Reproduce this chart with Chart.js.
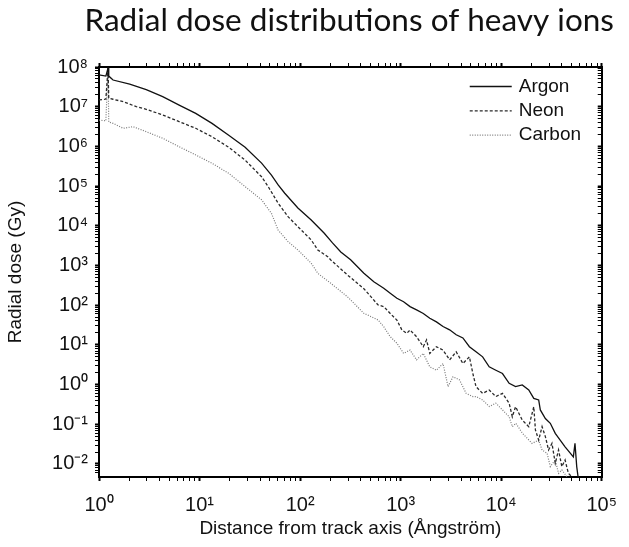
<!DOCTYPE html>
<html>
<head>
<meta charset="utf-8">
<script src="https://cdn.jsdelivr.net/npm/chart.js@4/dist/chart.umd.min.js"></script>
<style>
  body { margin: 0; background: #fff; }
  #wrap { width: 629px; height: 547px; position: relative; }
</style>
</head>
<body>
<div id="wrap"><canvas id="dose-chart"></canvas></div>
<script>
// Radial dose vs distance from the ion track
var argonR = [1, 1.17, 1.23, 1.25, 1.38, 2.02, 2.95, 4.3, 6.27, 9.16, 13.3, 19.5, 28.4, 41.4, 51.9,
  60.5, 70.4, 95.1, 129, 174, 210, 254, 318, 431, 541, 679, 788, 918, 1070, 1240, 1440, 1680, 1950,
  2270, 2640, 3070, 3570, 4160, 4830, 5620, 6540, 7600, 8850, 10300, 12000, 13900, 16200, 18800,
  21100, 23600, 24500, 27500, 30800, 34500, 38600, 43200, 48400, 52200, 54200, 56400, 58400];
var argonDose = [6.3e7, 5.9e7, 9.4e7, 5.9e7, 4.7e7, 3.7e7, 2.7e7, 1.8e7, 1.1e7, 6.8e6, 3.8e6, 1.9e6,
  9.5e5, 3.8e5, 1.9e5, 1.07e5, 6.6e4, 2.8e4, 1.4e4, 6.5e3, 3.7e3, 2.2e3, 1.4e3, 640, 390, 267, 199,
  149, 122, 92, 76, 62, 47, 38, 29, 24, 18, 15, 9.0, 6.7, 5.0, 2.8, 2.3, 1.9, 1.08, 0.89, 0.98, 0.73,
  0.45, 0.41, 0.23, 0.14, 0.106, 0.059, 0.040, 0.027, 0.019, 0.015, 0.033, 0.0086, 0.0044];

var neonR = [1, 1.17, 1.23, 1.25, 1.38, 1.74, 2.35, 2.95, 4.3, 6.27, 9.16, 13.3, 19.5, 28.4, 41.4,
  48.2, 60.5, 75.9, 95.1, 129, 150, 188, 202, 295, 431, 597, 679, 788, 918, 1030, 1150, 1240, 1440,
  1680, 1810, 1950, 2270, 2640, 3070, 3570, 4160, 4830, 5220, 5620, 6540, 7600, 8850, 10300, 12000,
  12900, 13900, 16200, 18800, 21100, 21900, 23600, 25500, 27500, 29600, 32000, 34500, 37200, 40100,
  43200, 46600, 50300];
var neonDose = [1.48e7, 1.56e7, 9.4e7, 1.63e7, 1.54e7, 1.34e7, 1.0e7, 8.6e6, 6.2e6, 4.2e6, 2.86e6,
  1.75e6, 9.5e5, 4.5e5, 1.72e5, 9.7e4, 3.7e4, 1.7e4, 9.5e3, 4.4e3, 2.46e3, 1.67e3, 1.38e3, 580, 260,
  101, 92, 62, 42, 23.7, 19.6, 23.7, 16.1, 9.0, 13.3, 6.1, 9.0, 7.4, 4.2, 6.7, 3.4, 5.0, 1.93, 0.885,
  0.60, 0.73, 0.50, 0.60, 0.34, 0.155, 0.277, 0.128, 0.087, 0.277, 0.072, 0.040, 0.087, 0.049, 0.0225,
  0.033, 0.0104, 0.0225, 0.0086, 0.0126, 0.0058, 0.0048];

var carbonR = [1, 1.17, 1.23, 1.25, 1.38, 1.74, 2.18, 2.95, 4.3, 6.27, 9.16, 13.3, 19.5, 28.4, 41.4,
  51.9, 60.5, 75.9, 95.1, 129, 150, 202, 295, 431, 597, 679, 788, 918, 1070, 1240, 1440, 1680, 1950,
  2270, 2640, 2960, 3320, 3850, 4480, 5220, 5620, 6540, 7600, 8850, 10300, 12000, 12900, 14000,
  16300, 20300, 23600, 25500, 28600, 30800, 34500, 37200, 40100, 44900];
var carbonDose = [4.6e6, 4.4e6, 9.4e7, 4.1e6, 3.8e6, 2.86e6, 3.13e6, 2.35e6, 1.6e6, 9.8e5, 6.1e5,
  3.75e5, 2.1e5, 9.7e4, 4.5e4, 2.06e4, 7.8e3, 4.0e3, 2.46e3, 1.14e3, 636, 356, 164, 62.5, 42.4, 28.7,
  16.1, 11.0, 6.1, 7.4, 4.2, 6.1, 2.8, 2.3, 3.4, 0.89, 1.58, 1.31, 0.60, 0.50, 0.50, 0.41, 0.28, 0.34,
  0.23, 0.155, 0.087, 0.106, 0.059, 0.033, 0.040, 0.0225, 0.0186, 0.0086, 0.0126, 0.0058, 0.0071,
  0.0048];

var xMin = 1, xMax = 1e5;
var yMin = 4.7e-3, yMax = 1e8;

function points(rs, ds) {
  return rs.map(function (r, i) { return { x: r, y: ds[i] }; });
}

var SUP = { '0': '\u2070', '1': '\u00b9', '2': '\u00b2', '3': '\u00b3', '4': '\u2074', '5': '\u2075',
  '6': '\u2076', '7': '\u2077', '8': '\u2078', '9': '\u2079', '-': '\u207b' };

function isDecade(v) {
  var e = Math.log10(v);
  return Math.abs(e - Math.round(e)) < 1e-9;
}
function decadeLabel(v) {
  if (!isDecade(v)) return '';
  var e = String(Math.round(Math.log10(v)));
  return '10' + e.split('').map(function (c) { return SUP[c]; }).join('');
}
// keep only 1..9 x 10^n ticks (drop chart.js's 1.5 x 10^n and the range ends)
function integerTicks(scale) {
  scale.ticks = scale.ticks.filter(function (t) {
    var m = t.value / Math.pow(10, Math.floor(Math.log10(t.value) + 1e-9));
    return Math.abs(m - Math.round(m)) < 1e-6;
  });
}

var tickW = function (c) { return c.tick && isDecade(c.tick.value) ? 2 : 1; };
var frame = { color: '#000', width: 2 };
var font = '"Liberation Sans", Arial, sans-serif';

// legend drawn inside the plot, top right
var seriesLegend = {
  id: 'seriesLegend',
  afterDatasetsDraw: function (chart) {
    var ctx = chart.ctx, area = chart.chartArea;
    ctx.save();
    ctx.font = '19px ' + font;
    ctx.textBaseline = 'middle';
    chart.data.datasets.forEach(function (ds, i) {
      var y = area.top + 19.5 + i * 24.3;
      var x0 = area.right - 132;
      ctx.strokeStyle = ds.borderColor;
      ctx.lineWidth = ds.borderWidth;
      ctx.setLineDash(ds.borderDash || []);
      ctx.beginPath();
      ctx.moveTo(x0, y);
      ctx.lineTo(x0 + 42, y);
      ctx.stroke();
      ctx.setLineDash([]);
      ctx.fillStyle = '#111';
      ctx.fillText(ds.label, x0 + 49, y);
    });
    ctx.restore();
  }
};

new Chart(document.getElementById('dose-chart'), {
  type: 'line',
  data: {
    datasets: [
      { label: 'Argon', data: points(argonR, argonDose), borderColor: '#111', borderWidth: 1.3 },
      { label: 'Neon', data: points(neonR, neonDose), borderColor: '#2a2a2a', borderWidth: 1.3, borderDash: [3, 2] },
      { label: 'Carbon', data: points(carbonR, carbonDose), borderColor: '#7a7a7a', borderWidth: 1.2, borderDash: [1, 1.5] }
    ]
  },
  options: {
    responsive: true,
    maintainAspectRatio: false,
    animation: false,
    layout: { padding: { left: 0, top: 0, bottom: 0, right: 15 } },
    elements: { point: { radius: 0 }, line: { tension: 0 } },
    plugins: {
      legend: { display: false },
      tooltip: { enabled: false },
      title: {
        display: true,
        text: 'Radial dose distributions of heavy ions',
        align: 'end',
        color: '#111',
        font: { family: 'Lato', size: 31.5, weight: 'normal' },
        padding: { top: 2.1, bottom: 21.1 }
      }
    },
    scales: {
      x: {
        type: 'logarithmic', min: xMin, max: xMax, position: 'bottom',
        afterBuildTicks: integerTicks,
        afterFit: function (s) { s.height = 70; },
        border: frame,
        grid: { drawOnChartArea: false, tickLength: 4, tickColor: '#000', tickWidth: tickW },
        ticks: { autoSkip: false, maxRotation: 0, padding: 12, color: '#111',
          font: { family: font, size: 20 }, callback: decadeLabel },
        title: { display: true, text: 'Distance from track axis (\u00c5ngstr\u00f6m)', color: '#111',
          font: { family: font, size: 19 }, padding: { top: 0, bottom: 7 } }
      },
      y: {
        type: 'logarithmic', min: yMin, max: yMax, position: 'left',
        afterBuildTicks: integerTicks,
        afterFit: function (s) { s.width = 99; },
        border: frame,
        grid: { drawOnChartArea: false, tickLength: 4, tickColor: '#000', tickWidth: tickW },
        ticks: { autoSkip: false, padding: 7, color: '#111',
          font: { family: font, size: 20 }, callback: decadeLabel },
        title: { display: true, text: 'Radial dose (Gy)', color: '#111',
          font: { family: font, size: 19 }, padding: { top: 4, bottom: 0 } }
      },
      x2: {
        type: 'logarithmic', min: xMin, max: xMax, position: 'top',
        afterBuildTicks: integerTicks,
        afterFit: function (s) { s.height = 6; },
        border: frame,
        grid: { drawOnChartArea: false, tickLength: 4, tickColor: '#000', tickWidth: tickW },
        ticks: { display: false, autoSkip: false }
      },
      y2: {
        type: 'logarithmic', min: yMin, max: yMax, position: 'right',
        afterBuildTicks: integerTicks,
        afterFit: function (s) { s.width = 7; },
        border: frame,
        grid: { drawOnChartArea: false, tickLength: -4, tickColor: '#000', tickWidth: tickW },
        ticks: { display: false, autoSkip: false }
      }
    }
  },
  plugins: [seriesLegend]
});
</script>
</body>
</html>
